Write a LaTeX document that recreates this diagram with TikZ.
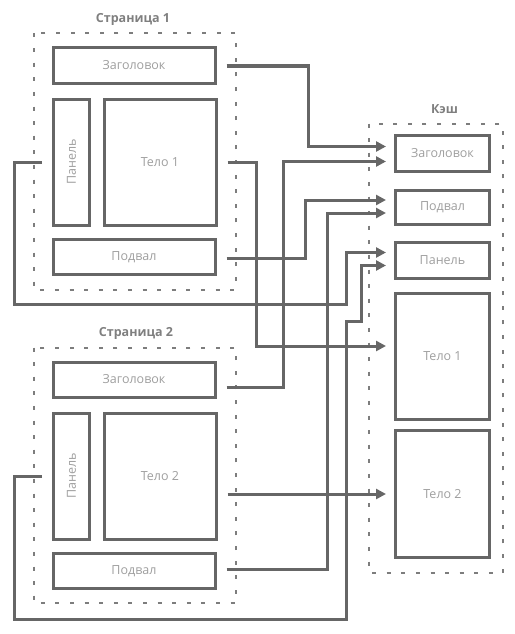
\documentclass[tikz,border=0pt]{standalone}
\usepackage{fontspec}
\setmainfont{Open Sans}
\usepackage{tikz}
\usetikzlibrary{arrows.meta}

\definecolor{linegray}{HTML}{666666}
\definecolor{labelgray}{HTML}{9E9E9E}
\definecolor{titlegray}{HTML}{7F7F7F}

\begin{document}
\begin{tikzpicture}[
            x=1pt, y=-1pt,
            block/.style={draw=linegray, line width=3pt, inner sep=0pt, align=center, font=\fontsize{12.5}{14}\selectfont, text=labelgray},
            wide/.style={block, minimum width=162pt, minimum height=35pt},
            slim/.style={block, minimum width=36pt, minimum height=126pt},
            body/.style={block, minimum width=112pt, minimum height=126pt},
            cached/.style={block, minimum width=94pt},
            frame/.style={draw=linegray!85, line width=2pt, dash pattern=on 4pt off 10.6pt},
            title/.style={font=\bfseries\fontsize{12.5}{14}\selectfont, text=titlegray},
            link/.style={draw=linegray, line width=3pt, -{Triangle[length=10pt, width=10pt]}, shorten >=8pt},
            plain/.style={draw=linegray, line width=3pt, shorten <=10pt}
        ]
            \useasboundingbox (0,0) rectangle (514,634);

            % Frames and titles
            \draw[frame] (33.5,33.5) rectangle (236,289.5);
            \draw[frame] (33.5,347.5) rectangle (236,603);
            \draw[frame] (369,123.5) rectangle (503,573);
            \node[title] (t1) at (133,19) {Страница 1};
            \node[title] (t2) at (136,333) {Страница 2};
            \node[title] (tc) at (444.5,109) {Кэш};

            % Page 1
            \node[wide] (p1head) at (134,65.5) {Заголовок};
            \node[slim] (p1panel) at (71.5,162) {\rotatebox{90}{Панель}};
            \node[body] (p1body) at (160,162) {Тело 1};
            \node[wide] (p1foot) at (134,257) {Подвал};

            % Page 2
            \node[wide] (p2head) at (134,379.5) {Заголовок};
            \node[slim] (p2panel) at (71.5,476) {\rotatebox{90}{Панель}};
            \node[body] (p2body) at (160,476) {Тело 2};
            \node[wide] (p2foot) at (134,571) {Подвал};

            % Cache
            \node[cached, minimum height=36pt] (chead) at (442.5,153.5) {Заголовок};
            \node[cached, minimum height=34pt] (cfoot) at (442.5,207) {Подвал};
            \node[cached, minimum height=36pt] (cpanel) at (442.5,260.5) {Панель};
            \node[cached, minimum height=126pt] (cbody1) at (442.5,356) {Тело 1};
            \node[cached, minimum height=127pt] (cbody2) at (442.5,494) {Тело 2};

            % Links from page 1
            \draw[link, plain] ([yshift=-0.5pt]p1head.east) -- ++(92,0) |- ([yshift=7pt]chead.west);
            \draw[link, plain] (p1body.east) -- ++(39,0) |- ([yshift=10pt]cbody1.west);
            \draw[link, plain] ([yshift=-1pt]p1foot.east) -- ++(89,0) |- ([yshift=7pt]cfoot.west);
            \draw[link, plain] (p1panel.west) -- ++(-38,0) -- ++(0,142) -- ++(332,0) |- ([yshift=8pt]cpanel.west);

            % Links from page 2
            \draw[link, plain] ([yshift=-8pt]p2head.east) -- ++(67,0) |- ([yshift=-8pt]chead.west);
            \draw[link, plain] (p2body.east |- cbody2.west) -- (cbody2.west);
            \draw[link, plain] ([yshift=2pt]p2foot.east) -- ++(111,0) |- ([yshift=-6pt]cfoot.west);
            \draw[link, plain] (p2panel.west) -- ++(-38,0) -- ++(0,143) -- ++(332,0) -- ++(0,-298) -- ++(15,0) |- ([yshift=-5pt]cpanel.west);

        \end{tikzpicture}
\end{document}
